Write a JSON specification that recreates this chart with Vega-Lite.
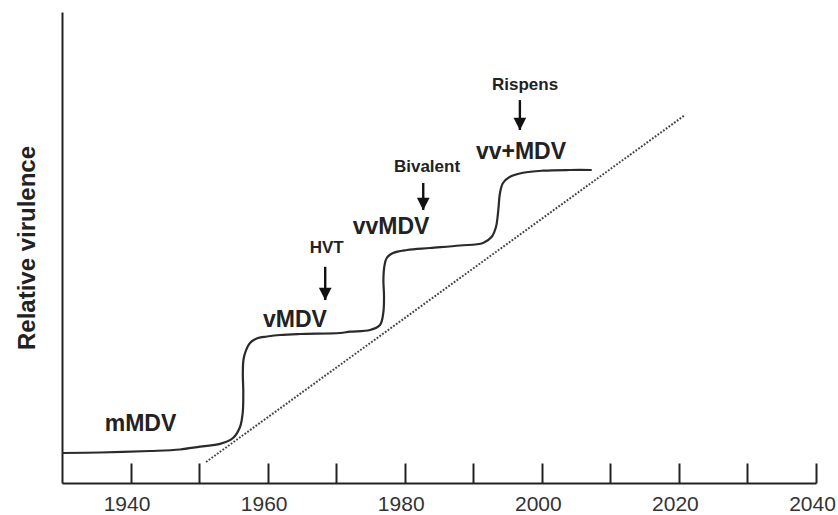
{
  "$schema": "https://vega.github.io/schema/vega-lite/v6.json",
  "width": 754,
  "height": 471,
  "autosize": {"type": "none"},
  "padding": {"left": 62, "top": 12, "right": 22, "bottom": 32},
  "background": "white",
  "config": {"view": {"stroke": null}, "font": "Liberation Sans"},
  "datasets": {
    "curve": [
      {"i": 1, "x": 1930.0, "y": 6.37},
      {"i": 2, "x": 1935.54, "y": 6.48},
      {"i": 3, "x": 1942.84, "y": 6.79},
      {"i": 4, "x": 1947.22, "y": 7.11},
      {"i": 5, "x": 1950.13, "y": 7.71},
      {"i": 6, "x": 1953.05, "y": 8.3},
      {"i": 7, "x": 1954.95, "y": 9.55},
      {"i": 8, "x": 1955.97, "y": 11.89},
      {"i": 9, "x": 1956.36, "y": 14.86},
      {"i": 10, "x": 1956.45, "y": 19.11},
      {"i": 11, "x": 1956.38, "y": 23.35},
      {"i": 12, "x": 1956.47, "y": 26.11},
      {"i": 13, "x": 1956.75, "y": 27.81},
      {"i": 14, "x": 1957.43, "y": 29.72},
      {"i": 15, "x": 1958.59, "y": 30.79},
      {"i": 16, "x": 1959.91, "y": 31.1},
      {"i": 17, "x": 1961.81, "y": 31.42},
      {"i": 18, "x": 1964.72, "y": 31.63},
      {"i": 19, "x": 1970.56, "y": 31.85},
      {"i": 20, "x": 1972.02, "y": 32.12},
      {"i": 21, "x": 1974.93, "y": 32.48},
      {"i": 22, "x": 1976.39, "y": 33.55},
      {"i": 23, "x": 1976.87, "y": 36.09},
      {"i": 24, "x": 1976.98, "y": 39.55},
      {"i": 25, "x": 1976.89, "y": 43.1},
      {"i": 26, "x": 1977.02, "y": 45.92},
      {"i": 27, "x": 1977.37, "y": 47.77},
      {"i": 28, "x": 1978.29, "y": 48.83},
      {"i": 29, "x": 1980.33, "y": 49.47},
      {"i": 30, "x": 1983.69, "y": 49.89},
      {"i": 31, "x": 1988.06, "y": 50.42},
      {"i": 32, "x": 1991.42, "y": 50.96},
      {"i": 33, "x": 1992.69, "y": 52.29},
      {"i": 34, "x": 1993.32, "y": 54.42},
      {"i": 35, "x": 1993.65, "y": 57.96},
      {"i": 36, "x": 1993.9, "y": 61.57},
      {"i": 37, "x": 1994.34, "y": 63.69},
      {"i": 38, "x": 1995.36, "y": 65.03},
      {"i": 39, "x": 1997.26, "y": 65.88},
      {"i": 40, "x": 2000.17, "y": 66.31},
      {"i": 41, "x": 2004.11, "y": 66.45},
      {"i": 42, "x": 2007.28, "y": 66.45}
    ],
    "trend": [
      {"x": 1951.01, "y": 4.46},
      {"x": 2020.89, "y": 78.13}
    ],
    "labels": [
      {"x": 1941.45, "y": 12.63, "text": "mMDV", "kind": "strain"},
      {"x": 1963.99, "y": 34.61, "text": "vMDV", "kind": "strain"},
      {"x": 1978.0, "y": 54.35, "text": "vvMDV", "kind": "strain"},
      {"x": 1996.96, "y": 70.28, "text": "vv+MDV", "kind": "strain"},
      {"x": 1968.62, "y": 50.0, "text": "HVT", "kind": "vaccine"},
      {"x": 1983.25, "y": 67.09, "text": "Bivalent", "kind": "vaccine"},
      {"x": 1997.55, "y": 84.5, "text": "Rispens", "kind": "vaccine"}
    ],
    "arrows": [
      {"vaccine": "HVT", "x": 1968.4, "y": 45.9, "tip": 38.85},
      {"vaccine": "Bivalent", "x": 1982.7, "y": 63.7, "tip": 57.96},
      {"vaccine": "Rispens", "x": 1996.8, "y": 81.3, "tip": 74.95}
    ]
  },
  "encoding": {
    "x": {
      "field": "x",
      "type": "quantitative",
      "scale": {"domain": [1930, 2040], "nice": false, "zero": false},
      "axis": {
        "values": [1940, 1950, 1960, 1970, 1980, 1990, 2000, 2010, 2020, 2030, 2040],
        "format": "d",
        "labelExpr": "datum.value % 20 === 0 ? datum.label : ''",
        "title": null,
        "grid": false,
        "tickSize": -20,
        "tickWidth": 2,
        "tickColor": "#222",
        "domainWidth": 2,
        "domainColor": "#222",
        "labelFontSize": 21,
        "labelColor": "#333",
        "labelPadding": 30,
        "labelOffset": -4,
        "labelFlush": false,
        "labelOverlap": false
      }
    },
    "y": {
      "field": "y",
      "type": "quantitative",
      "scale": {"domain": [0, 100], "nice": false, "zero": false},
      "axis": {
        "title": "Relative virulence",
        "titleFontSize": 24,
        "titleFontWeight": "bold",
        "titleColor": "#222",
        "titlePadding": 23,
        "ticks": false,
        "labels": false,
        "grid": false,
        "domainWidth": 2,
        "domainColor": "#222"
      }
    }
  },
  "layer": [
    {
      "data": {"name": "trend"},
      "mark": {"type": "line", "color": "#444", "strokeWidth": 2, "strokeDash": [1.8, 1.6]}
    },
    {
      "data": {"name": "curve"},
      "mark": {"type": "line", "color": "#2a2a2a", "strokeWidth": 2.2, "interpolate": "catmull-rom"},
      "encoding": {"order": {"field": "i", "type": "quantitative"}}
    },
    {
      "data": {"name": "arrows"},
      "mark": {"type": "rule", "color": "#111", "strokeWidth": 2.4},
      "encoding": {"y2": {"field": "tip"}}
    },
    {
      "data": {"name": "arrows"},
      "mark": {"type": "point", "shape": "M-1,-1L1,-1L0,1Z", "filled": true, "color": "#111", "opacity": 1, "size": 160, "yOffset": -6, "strokeWidth": 0},
      "encoding": {"y": {"field": "tip", "type": "quantitative"}}
    },
    {
      "data": {"name": "labels"},
      "mark": {"type": "text", "fontWeight": "bold", "color": "#222", "baseline": "middle", "align": "center"},
      "encoding": {
        "text": {"field": "text"},
        "size": {"field": "kind", "type": "ordinal", "scale": {"domain": ["strain", "vaccine"], "range": [23, 17]}, "legend": null}
      }
    }
  ]
}
